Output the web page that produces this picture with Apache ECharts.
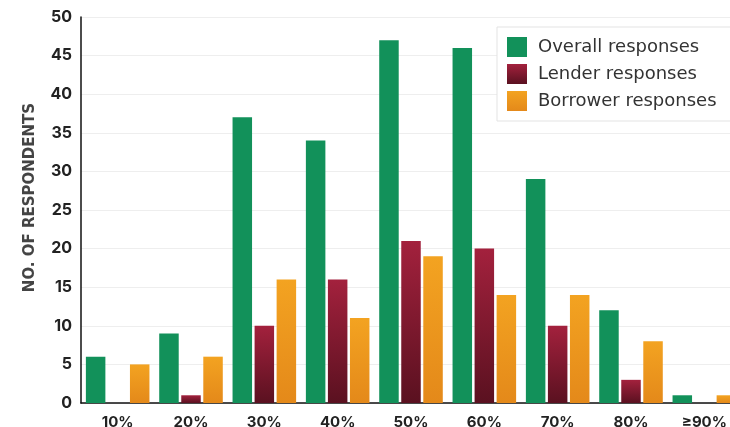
<!DOCTYPE html>
<html>
<head>
<meta charset="utf-8">
<script src="https://cdn.jsdelivr.net/npm/echarts@6/dist/echarts.min.js"></script>
<style>
html,body{margin:0;padding:0;background:#fff;overflow:hidden;}
#chart{width:730px;height:427px;}
</style>
</head>
<body>
<div id="chart"></div>
<script>
var categories = ['10%', '20%', '30%', '40%', '50%', '60%', '70%', '80%', '≥90%'];
var overall = [6, 9, 37, 34, 47, 46, 29, 12, 1];
var lender = [0, 1, 10, 16, 21, 20, 10, 3, 0];
var borrower = [5, 6, 16, 11, 19, 14, 14, 8, 1];
var seriesNames = ['Overall responses', 'Lender responses', 'Borrower responses'];
var yTicks = [0, 5, 10, 15, 20, 25, 30, 35, 40, 45, 50];

var chart = echarts.init(document.getElementById('chart'));
var font = 'Inter, "Open Sans", sans-serif';
var green = '#12915a';
var red = new echarts.graphic.LinearGradient(0, 0, 0, 1, [
  {offset: 0, color: '#a3213d'}, {offset: 1, color: '#5a1120'}]);
var orange = new echarts.graphic.LinearGradient(0, 0, 0, 1, [
  {offset: 0, color: '#f3a321'}, {offset: 1, color: '#e4891a'}]);

chart.setOption({
  animation: false,
  backgroundColor: '#fff',
  textStyle: {fontFamily: font},
  grid: {left: 81, top: 17, width: 660, height: 386, outerBoundsMode: 'none', containLabel: false},
  legend: {
    orient: 'vertical',
    left: 497, top: 27,
    padding: [10, 30, 10, 10],
    backgroundColor: '#fff',
    borderColor: '#e3e3e3', borderWidth: 1,
    itemWidth: 20, itemHeight: 20, itemGap: 7,
    icon: 'rect',
    textStyle: {fontFamily: '"DejaVu Sans", sans-serif', fontSize: 18, color: '#333', padding: [0, 0, 0, 6]},
    data: seriesNames
  },
  xAxis: {
    type: 'category',
    data: categories,
    axisLine: {lineStyle: {color: '#111', width: 1.5}},
    axisTick: {show: false},
    axisLabel: {fontFamily: font, fontWeight: 'bold', fontSize: 15, color: '#222', margin: 12}
  },
  yAxis: {
    type: 'value',
    min: yTicks[0], max: yTicks[yTicks.length - 1], interval: 5,
    name: 'NO. OF RESPONDENTS',
    nameLocation: 'middle',
    nameGap: 43,
    nameTextStyle: {fontFamily: '"DejaVu Sans", sans-serif', fontWeight: 'bold', fontSize: 15, color: '#444', padding: [0, 0, 0, 25]},
    axisLine: {show: true, lineStyle: {color: '#111', width: 1.5}},
    axisTick: {show: false},
    splitLine: {lineStyle: {color: '#eeeeee'}},
    axisLabel: {fontFamily: font, fontWeight: 'bold', fontSize: 16, color: '#222', margin: 9}
  },
  series: [
    {name: seriesNames[0], type: 'bar', data: overall, barWidth: 19.5, barGap: '13%', itemStyle: {color: green}},
    {name: seriesNames[1], type: 'bar', data: lender, barWidth: 19.5, barGap: '13%', itemStyle: {color: red}},
    {name: seriesNames[2], type: 'bar', data: borrower, barWidth: 19.5, barGap: '13%', itemStyle: {color: orange}}
  ]
});
</script>
</body>
</html>
